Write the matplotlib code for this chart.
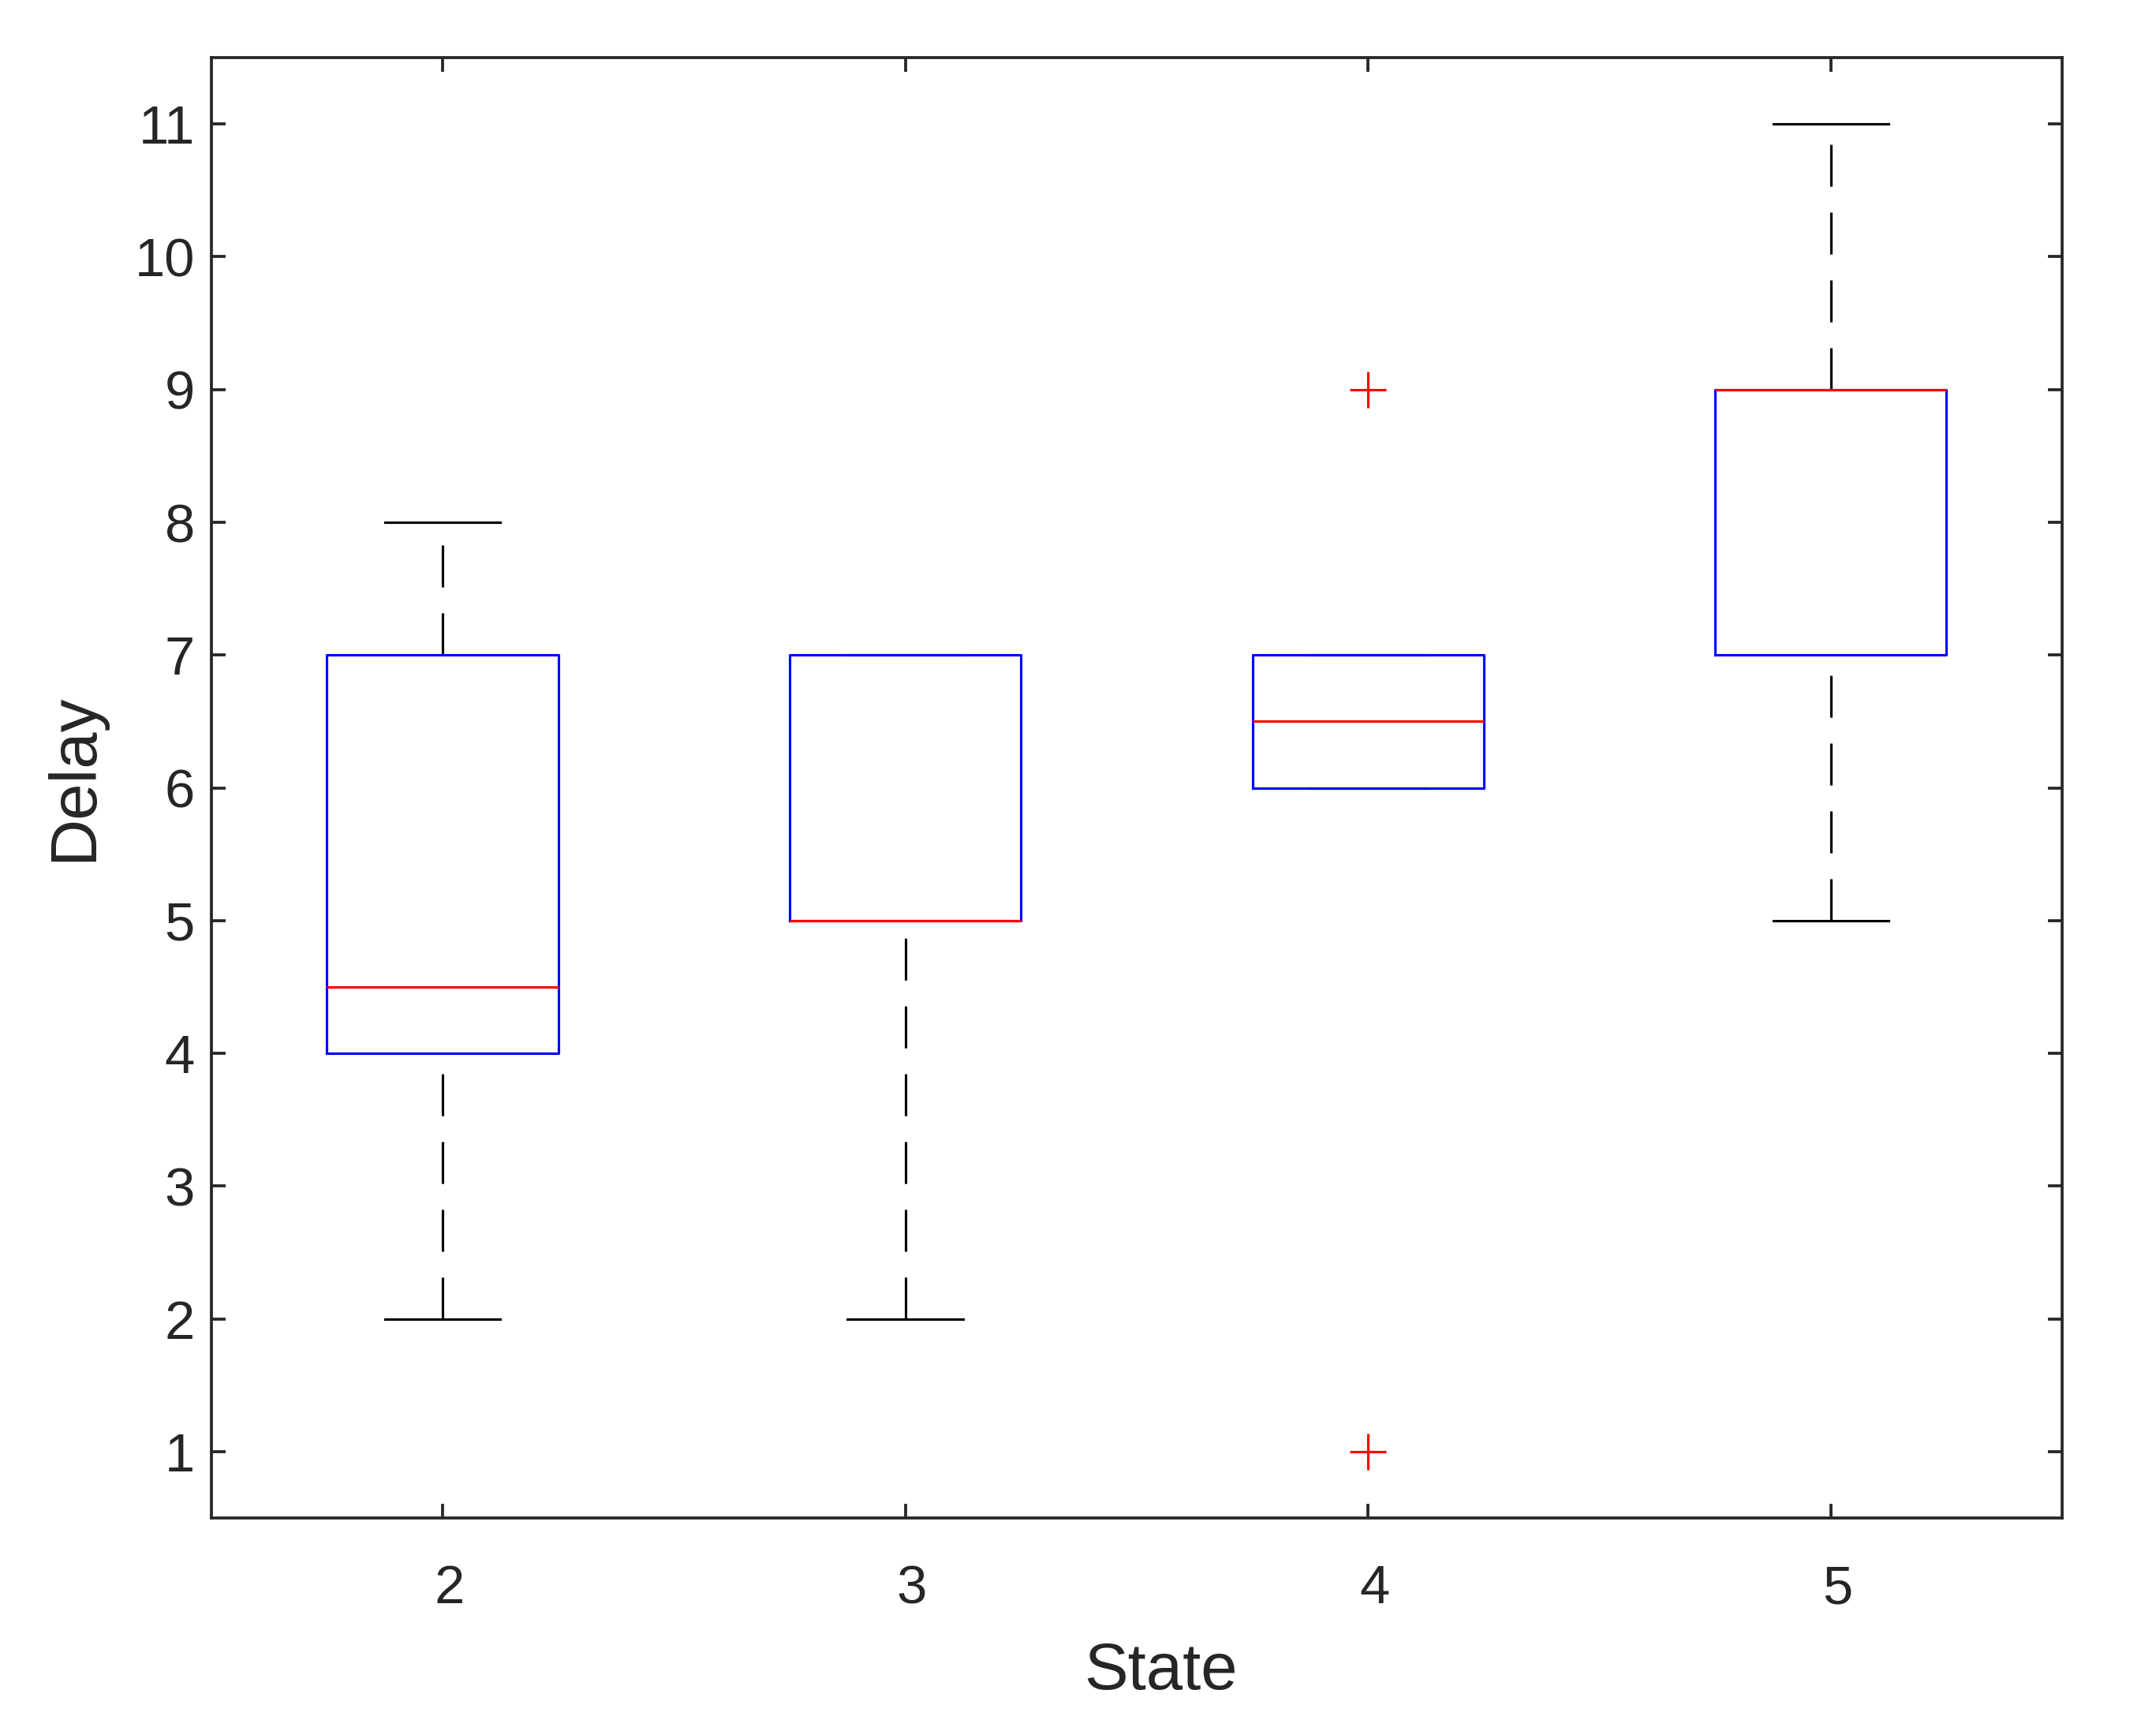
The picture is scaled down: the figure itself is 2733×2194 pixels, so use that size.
import matplotlib
matplotlib.use("Agg")
import matplotlib.pyplot as plt
import matplotlib.transforms as mtransforms

# box statistics
states = ["2", "3", "4", "5"]
whis_lo = [2, 2, 6, 5]
q1 = [4, 5, 6, 7]
medians = [4.5, 5, 6.5, 9]
q3 = [7, 7, 7, 9]
whis_hi = [8, 7, 7, 11]
outliers = [[], [], [1, 9], []]

plt.rcParams['font.family'] = ['Liberation Sans', 'DejaVu Sans']

stats = []
for i in range(len(states)):
    stats.append(dict(label=states[i], whislo=whis_lo[i], q1=q1[i], med=medians[i],
                      q3=q3[i], whishi=whis_hi[i], fliers=outliers[i]))

fig = plt.figure(figsize=(2733 / 300, 2194 / 300), dpi=300)
ax = fig.add_axes([0.098, 0.123, 0.8585, 0.8437])

bp = ax.bxp(stats, positions=[1, 2, 3, 4], widths=0.5, showfliers=True,
            boxprops=dict(color='blue', linewidth=0.75, zorder=3),
            medianprops=dict(color='red', linewidth=0.75, zorder=4),
            whiskerprops=dict(color='black', linewidth=0.75, linestyle=(0, (17, 10.5))),
            capprops=dict(color='black', linewidth=0.75),
            capwidths=0.25,
            flierprops=dict(marker='+', markeredgecolor='red', markersize=11,
                            markeredgewidth=0.75))

# matlab starts the dash pattern of the lower whisker at the cap
for w in bp['whiskers'][0::2]:
    w.set_ydata(w.get_ydata()[::-1])

ax.set_xlim(0.5, 4.5)
ax.set_ylim(0.5, 11.5)
ax.set_yticks(range(1, 12))
ax.set_xticks([1, 2, 3, 4])
ax.set_xticklabels(states)

for s in ax.spines.values():
    s.set_color('#262626')
    s.set_linewidth(0.9)
ax.tick_params(direction='in', length=4.4, width=0.9, color='#262626',
               top=True, right=True, labelsize=16.5, labelcolor='#262626')
ax.tick_params(axis='y', pad=5)
ax.tick_params(axis='x', pad=14)

# MATLAB nudges x labels slightly to the right
offset = mtransforms.ScaledTranslation(2 / 72, 0, fig.dpi_scale_trans)
for lab in ax.get_xticklabels():
    lab.set_transform(lab.get_transform() + offset)

ax.set_xlabel('State', fontsize=20, color='#262626', labelpad=8)
ax.set_ylabel('Delay', fontsize=20, color='#262626', labelpad=9)
ax.xaxis.label.set_x(0.513)
ax.yaxis.label.set_y(0.507)

fig.savefig('out.png', dpi=300)
